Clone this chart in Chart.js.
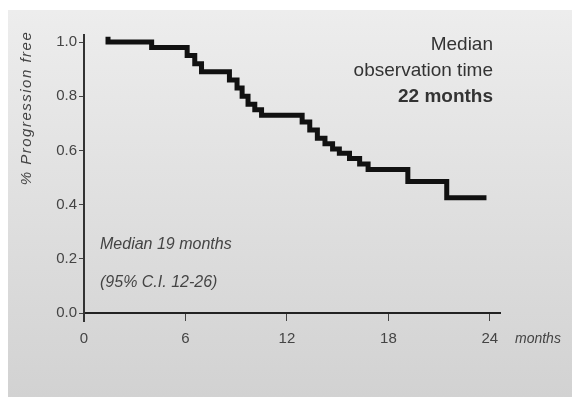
<!DOCTYPE html>
<html>
<head>
<meta charset="utf-8">
<style>
  html, body { margin: 0; padding: 0; background: #fff; }
  canvas { display: block; }
</style>
<script src="https://cdn.jsdelivr.net/npm/chart.js@4"></script>
</head>
<body>
<canvas id="kmChart" width="572" height="401"></canvas>
<script>
// Kaplan-Meier step points: month of event, fraction progression free after it
const months = [1.42, 1.42, 4.0, 6.1, 6.55, 6.95, 8.6, 9.05, 9.35, 9.7, 10.1, 10.5,
    12.9, 13.35, 13.8, 14.25, 14.7, 15.1, 15.7, 16.3, 16.8, 19.15, 21.45, 23.8];
const progressionFree = [1.02, 1.0, 0.98, 0.95, 0.92, 0.89, 0.86, 0.83, 0.80, 0.77, 0.75, 0.73,
    0.705, 0.675, 0.645, 0.625, 0.605, 0.59, 0.57, 0.55, 0.53, 0.485, 0.425, 0.425];

const xTicks = [0, 6, 12, 18, 24];
const yTicks = [0, 0.2, 0.4, 0.6, 0.8, 1.0];

const yTitle = "% Progression free";
const xUnit = "months";
const observationLines = ["Median", "observation time", "22 months"];
const medianLines = ["Median 19 months", "(95% C.I. 12-26)"];

const fontFamily = "'Liberation Sans', Arial, sans-serif";

// fondo gris con degradado y textos sueltos
const decorPlugin = {
    id: "decor",
    beforeDraw(chart) {
        const ctx = chart.ctx;
        const grad = ctx.createLinearGradient(0, 10, 0, 397);
        grad.addColorStop(0, "#ededed");
        grad.addColorStop(1, "#d2d2d2");
        ctx.save();
        ctx.fillStyle = "#fff";
        ctx.fillRect(0, 0, chart.width, chart.height);
        ctx.fillStyle = grad;
        ctx.fillRect(8, 10, chart.width - 8, 387);
        ctx.restore();
    },
    afterDraw(chart) {
        const ctx = chart.ctx;
        const area = chart.chartArea;
        ctx.save();

        // y axis runs a little past the x axis
        ctx.strokeStyle = "#333";
        ctx.lineWidth = 2;
        ctx.beginPath();
        ctx.moveTo(area.left, area.bottom);
        ctx.lineTo(area.left, area.bottom + 9);
        ctx.stroke();

        ctx.fillStyle = "#444";
        ctx.textBaseline = "middle";

        // y title
        ctx.save();
        ctx.translate(27, 108);
        ctx.rotate(-Math.PI / 2);
        ctx.textAlign = "center";
        ctx.font = "italic 15px " + fontFamily;
        ctx.letterSpacing = "1.5px";
        ctx.fillText(yTitle, 0, 0);
        ctx.restore();

        // unidad del eje x
        ctx.textAlign = "left";
        ctx.font = "italic 14px " + fontFamily;
        ctx.fillText(xUnit, 515, 339);

        // median observation time
        ctx.fillStyle = "#333";
        ctx.textAlign = "right";
        ctx.font = "19px " + fontFamily;
        ctx.fillText(observationLines[0], 493, 45);
        ctx.fillText(observationLines[1], 493, 71);
        ctx.font = "bold 19px " + fontFamily;
        ctx.fillText(observationLines[2], 493, 97);

        // median progression free
        ctx.fillStyle = "#444";
        ctx.textAlign = "left";
        ctx.font = "italic 16px " + fontFamily;
        ctx.fillText(medianLines[0], 100, 245);
        ctx.fillText(medianLines[1], 100, 283);

        ctx.restore();
    }
};

new Chart(document.getElementById("kmChart").getContext("2d"), {
    type: "line",
    data: {
        datasets: [{
            data: months.map((m, i) => ({ x: m, y: progressionFree[i] })),
            stepped: "before",
            borderColor: "#111",
            borderWidth: 5,
            borderCapStyle: "butt",
            borderJoinStyle: "miter",
            pointRadius: 0,
            fill: false
        }]
    },
    options: {
        responsive: false,
        animation: false,
        layout: { padding: { left: 0, top: 35, right: 72, bottom: 0 } },
        scales: {
            x: {
                type: "linear",
                min: 0,
                max: 24.6,
                afterFit(scale) { scale.height = 88; },
                afterBuildTicks(scale) { scale.ticks = xTicks.map(v => ({ value: v })); },
                grid: { drawOnChartArea: false, drawTicks: true, tickLength: 8, color: "#444", lineWidth: 1 },
                border: { display: true, color: "#222", width: 2 },
                ticks: { color: "#444", padding: 9, font: { family: fontFamily, size: 15 } }
            },
            y: {
                min: 0,
                max: 1.026,
                afterFit(scale) { scale.width = 84; },
                afterBuildTicks(scale) { scale.ticks = yTicks.map(v => ({ value: v })); },
                grid: { drawOnChartArea: false, drawTicks: true, tickLength: 5, color: "#444", lineWidth: 1 },
                border: { display: true, color: "#333", width: 2 },
                ticks: {
                    color: "#444",
                    padding: 2,
                    font: { family: fontFamily, size: 15 },
                    callback: v => v.toFixed(1)
                }
            }
        },
        plugins: {
            legend: { display: false },
            tooltip: { enabled: false }
        }
    },
    plugins: [decorPlugin]
});
</script>
</body>
</html>
